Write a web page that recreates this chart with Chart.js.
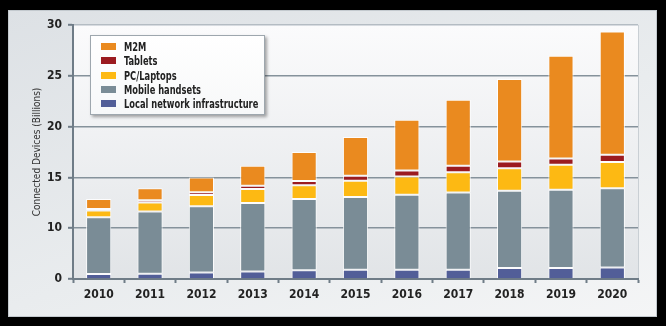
<!DOCTYPE html>
<html lang="en">
<head>
    <meta charset="UTF-8">
    <title>Connected Devices 2010-2020</title>
    <script src="https://cdn.jsdelivr.net/npm/chart.js"></script>
    <style>
        html, body { margin: 0; padding: 0; background: #000; }
        #wrap { position: relative; width: 666px; height: 326px; overflow: hidden; }
        #frame {
            position: absolute; left: 8px; top: 10px; width: 647px; height: 305px;
            border: 1px solid #c3c9ce;
            background: linear-gradient(160deg, #dde1e5 0%, #e9ecee 55%, #f4f5f6 100%);
        }
        #chartBox { position: absolute; left: 0; top: 0; width: 666px; height: 326px; }
        #legend {
            position: absolute; left: 90px; top: 35px; width: 173px; height: 78px;
            background: linear-gradient(#ffffff, #f7f8f9);
            border: 1px solid #9ea7ae;
            box-shadow: 2px 2px 3px rgba(0, 0, 0, 0.35);
            font-family: 'Liberation Sans Narrow', 'DejaVu Sans Condensed', sans-serif;
            font-weight: bold; font-size: 12px; color: #222;
        }
        #legend .item { position: absolute; left: 10px; height: 14px; line-height: 14px; white-space: nowrap; }
        #legend .swatch { display: inline-block; width: 15px; height: 7px; margin-right: 8px; vertical-align: 1px; }
        /* the condensed face is wider than the original lettering, squeeze it */
        #legend .text { display: inline-block; transform: scaleX(0.77); transform-origin: left center; }
    </style>
</head>
<body>
<div id="wrap">
    <div id="frame"></div>
    <div id="chartBox"><canvas id="devicesChart"></canvas></div>
    <div id="legend"></div>
</div>

<script>
    // Connected devices per year, in billions, one array per device type
    const years = ['2010', '2011', '2012', '2013', '2014', '2015', '2016', '2017', '2018', '2019', '2020'];
    const localNetwork   = [0.50, 0.52, 0.65, 0.75, 0.85, 0.92, 0.92, 0.92, 1.08, 1.08, 1.14];
    const mobileHandsets = [5.58, 6.13, 6.50, 6.73, 7.02, 7.15, 7.38, 7.60, 7.61, 7.71, 7.78];
    const pcLaptops      = [0.67, 0.89, 1.12, 1.38, 1.35, 1.60, 1.80, 1.98, 2.20, 2.46, 2.60];
    const tablets        = [0.15, 0.22, 0.27, 0.32, 0.42, 0.50, 0.59, 0.65, 0.68, 0.60, 0.71];
    const m2m            = [0.97, 1.16, 1.46, 1.97, 2.87, 3.81, 4.99, 6.50, 8.12, 10.13, 12.14];

    // labels printed on the value axis, one per gridline from the bottom up
    const yTickLabels = ['0', '10', '15', '20', '25', '30'];

    const FONT = "'Liberation Sans Narrow', 'DejaVu Sans Condensed', sans-serif";
    const AXIS = '#6f7c87';

    function series(label, data, color, onAxis) {
        return {
            label: label,
            data: data,
            backgroundColor: color,
            borderColor: 'rgba(255, 255, 255, 0.85)',
            borderWidth: 1,
            // the bottom segment sits straight on the axis line
            borderSkipped: onAxis ? 'start' : false,
            barPercentage: 0.49,
            categoryPercentage: 1
        };
    }

    // soft gradient behind the plot area
    const plotBackground = {
        id: 'plotBackground',
        beforeDraw(chart) {
            const { ctx, chartArea: a } = chart;
            const g = ctx.createLinearGradient(0, a.top, 0, a.bottom);
            g.addColorStop(0, '#fbfbfc');
            g.addColorStop(1, '#e1e4e7');
            ctx.save();
            ctx.fillStyle = g;
            ctx.fillRect(a.left, a.top, a.right - a.left, a.bottom - a.top);
            ctx.strokeStyle = '#c9cfd4';
            ctx.lineWidth = 1;
            ctx.beginPath();
            ctx.moveTo(a.right + 0.5, a.top);
            ctx.lineTo(a.right + 0.5, a.bottom);
            ctx.stroke();
            ctx.restore();
        }
    };

    const chart = new Chart(document.getElementById('devicesChart'), {
        type: 'bar',
        data: {
            labels: years,
            datasets: [
                series('Local network infrastructure', localNetwork, '#525e98', true),
                series('Mobile handsets', mobileHandsets, '#7a8c96'),
                series('PC/Laptops', pcLaptops, '#fdb913'),
                series('Tablets', tablets, '#9b1b20'),
                series('M2M', m2m, '#ea8a1f')
            ]
        },
        options: {
            responsive: true,
            maintainAspectRatio: false,
            animation: false,
            layout: { padding: { left: 0, right: 28, top: 25, bottom: 0 } },
            plugins: {
                legend: { display: false },
                tooltip: { enabled: false }
            },
            scales: {
                x: {
                    stacked: true,
                    afterFit(scale) { scale.height = 47; },
                    grid: {
                        offset: true,
                        drawOnChartArea: false,
                        tickLength: 4,
                        tickColor: AXIS,
                        tickWidth: 2
                    },
                    border: { color: AXIS, width: 2 },
                    ticks: {
                        padding: 5,
                        color: '#222',
                        font: { family: FONT, size: 12, weight: 'bold' }
                    }
                },
                y: {
                    stacked: true,
                    min: 0,
                    max: 25,
                    afterFit(scale) { scale.width = 73; },
                    grid: {
                        color: (c) => c.tick && c.tick.value === 25 ? '#b4bcc3' : '#85929b',
                        lineWidth: 1.6,
                        tickLength: 5,
                        tickColor: AXIS,
                        tickWidth: 2
                    },
                    border: { color: AXIS, width: 2 },
                    ticks: {
                        stepSize: 5,
                        padding: 6,
                        color: '#222',
                        font: { family: FONT, size: 12, weight: 'bold' },
                        callback: (value, index) => yTickLabels[index]
                    },
                    title: {
                        display: true,
                        text: 'Connected Devices (Billions)',
                        color: '#333',
                        padding: { top: 31, bottom: 0 },
                        font: { family: FONT, size: 10 }
                    }
                }
            }
        },
        plugins: [plotBackground]
    });

    // legend box, top series first
    const legend = document.getElementById('legend');
    chart.data.datasets.slice().reverse().forEach((ds, i) => {
        const item = document.createElement('div');
        item.className = 'item';
        item.style.top = (4 + i * 14.3) + 'px';
        item.innerHTML = '<span class="swatch" style="background:' + ds.backgroundColor + '"></span>' +
            '<span class="text">' + ds.label + '</span>';
        legend.appendChild(item);
    });
</script>
</body>
</html>
